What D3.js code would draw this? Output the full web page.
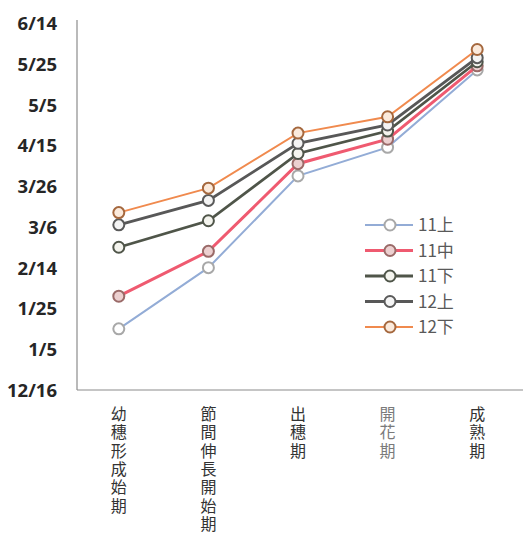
<!DOCTYPE html>
<html>
<head>
<meta charset="utf-8">
<script src="https://cdn.jsdelivr.net/npm/d3@7"></script>
<style>
  html, body { margin: 0; padding: 0; background: #fff; }
  svg { display: block; }
</style>
</head>
<body>
<svg id="chart" width="523" height="535"></svg>
<script>
// Growth stages (x categories)
const stages = ["幼穗形成始期", "節間伸長開始期", "出穗期", "開花期", "成熟期"];

// Sowing groups (series)
const seriesNames = ["11上", "11中", "11下", "12上", "12下"];

// Date each group reached each stage
const s11a = ["2015-01-15", "2015-02-14", "2015-03-31", "2015-04-14", "2015-05-22"];
const s11b = ["2015-01-31", "2015-02-22", "2015-04-06", "2015-04-18", "2015-05-24"];
const s11c = ["2015-02-24", "2015-03-09", "2015-04-11", "2015-04-22", "2015-05-26"];
const s12a = ["2015-03-07", "2015-03-19", "2015-04-16", "2015-04-25", "2015-05-28"];
const s12b = ["2015-03-13", "2015-03-25", "2015-04-21", "2015-04-29", "2015-06-01"];

// Y tick labels (every 20 days)
const yTicks = ["2014-12-16", "2015-01-05", "2015-01-25", "2015-02-14", "2015-03-06",
                "2015-03-26", "2015-04-15", "2015-05-05", "2015-05-25", "2015-06-14"];

const seriesValues = [s11a, s11b, s11c, s12a, s12b];

const styles = [
  { line: "#93acd6", lw: 2,   stroke: "#a8a8a8", fill: "#ffffff" },
  { line: "#ef5a70", lw: 3,   stroke: "#9a6a68", fill: "#ecd0d0" },
  { line: "#4f5549", lw: 2.8, stroke: "#4f5549", fill: "#f4f4ee" },
  { line: "#585858", lw: 2.8, stroke: "#5a5a5a", fill: "#f4f4f4" },
  { line: "#f08a4e", lw: 2,   stroke: "#a5683e", fill: "#fbeadc" }
];

const parse = d3.timeParse("%Y-%m-%d");
const fmt = d3.timeFormat("%-m/%-d");

const svg = d3.select("#chart");

const left = 77, right = 523, axisTop = 20, yTop = 23, yBottom = 390;

const x = d3.scaleBand().domain(stages).range([left, right + 2]);
const xc = s => x(s) + x.bandwidth() / 2 - 3;
const y = d3.scaleTime()
  .domain([parse(yTicks[0]), parse(yTicks[yTicks.length - 1])])
  .range([yBottom, yTop]);

// Axis lines
svg.append("line")
  .attr("x1", left).attr("x2", left).attr("y1", axisTop).attr("y2", yBottom)
  .attr("stroke", "#8c8c8c").attr("stroke-width", 1.2);
svg.append("line")
  .attr("x1", left).attr("x2", right).attr("y1", yBottom).attr("y2", yBottom)
  .attr("stroke", "#8c8c8c").attr("stroke-width", 1.2);

// Y tick labels
const yAxis = d3.axisLeft(y)
  .tickValues(yTicks.map(parse))
  .tickFormat(fmt)
  .tickSize(0)
  .tickPadding(0);
const gy = svg.append("g").attr("transform", `translate(57,0)`).call(yAxis);
gy.select(".domain").remove();
gy.selectAll("text")
  .attr("font-family", "'Open Sans', sans-serif")
  .attr("font-weight", 700)
  .attr("font-size", 18.5)
  .attr("fill", "#262626")
  .attr("dy", "0.35em");

// X labels, written vertically one character per line
const gx = svg.append("g");
stages.forEach(s => {
  const t = gx.append("text")
    .attr("font-family", "'Noto Sans CJK TC', 'Noto Sans CJK JP', sans-serif")
    .attr("font-size", 16)
    .attr("fill", s === "開花期" ? "#7a7a7a" : "#333333")
    .attr("text-anchor", "middle");
  Array.from(s).forEach((ch, i) => {
    t.append("tspan")
      .attr("x", xc(s))
      .attr("y", 414 + i * 18.4)
      .attr("dy", "0.36em")
      .text(ch);
  });
});

// Series lines and markers
const line = d3.line()
  .x((d, i) => xc(stages[i]))
  .y(d => y(parse(d)));

seriesValues.forEach((vals, k) => {
  const st = styles[k];
  const g = svg.append("g");
  g.append("path")
    .attr("d", line(vals))
    .attr("fill", "none")
    .attr("stroke", st.line)
    .attr("stroke-width", st.lw);
  g.selectAll("circle")
    .data(vals)
    .join("circle")
    .attr("cx", (d, i) => xc(stages[i]))
    .attr("cy", d => y(parse(d)))
    .attr("r", 5.5)
    .attr("fill", st.fill)
    .attr("stroke", st.stroke)
    .attr("stroke-width", 2);
});

// Legend
const lg = svg.append("g");
seriesNames.forEach((name, k) => {
  const st = styles[k];
  const cy = 225 + k * 25.5;
  lg.append("line")
    .attr("x1", 365).attr("x2", 413).attr("y1", cy).attr("y2", cy)
    .attr("stroke", st.line).attr("stroke-width", st.lw);
  lg.append("circle")
    .attr("cx", 390).attr("cy", cy).attr("r", 5.5)
    .attr("fill", st.fill).attr("stroke", st.stroke).attr("stroke-width", 2);
  lg.append("text")
    .attr("x", 418).attr("y", cy).attr("dy", "0.36em")
    .attr("font-family", "'Noto Sans CJK TC', 'Noto Sans', sans-serif")
    .attr("font-size", 17)
    .attr("fill", "#595959")
    .text(name);
});
</script>
</body>
</html>
